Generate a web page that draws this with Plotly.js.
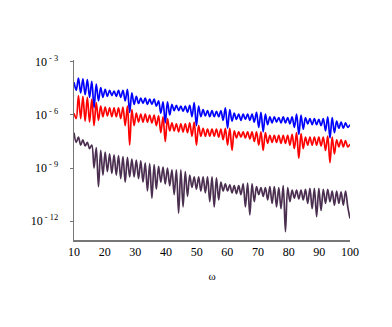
<!DOCTYPE html>
<html>
<head>
<meta charset="utf-8">
<script src="https://cdn.plot.ly/plotly-3.0.1.min.js"></script>
<style>
  body { margin: 0; padding: 0; background: #fff; }
  #chart { width: 392px; height: 327px; }
</style>
</head>
<body>
<div id="chart"></div>
<script>
// omega runs from 10 to 100 in 124 equal steps
var omegaStart = 10, omegaEnd = 100, nSamples = 125;

// log10 of the three responses
var blueExp = [
  -4.15, -4.6, -3.92, -4.75, -3.95, -4.85, -4.0, -5.0, -4.1, -5.6,
  -4.25, -5.2, -4.45, -5.0, -4.55, -4.95, -4.6, -4.9, -4.65, -4.95,
  -4.6, -5.0, -4.6, -5.2, -4.55, -5.85, -4.75, -5.4, -4.95, -5.35,
  -5.05, -5.35, -5.05, -5.4, -5.1, -5.4, -5.1, -5.5, -5.2, -5.9,
  -5.25, -6.45, -5.25, -6.0, -5.4, -5.75, -5.45, -5.75, -5.5, -5.8,
  -5.5, -5.85, -5.45, -6.1, -5.3, -6.6, -5.5, -6.1, -5.7, -6.05,
  -5.75, -6.1, -5.75, -6.1, -5.8, -6.1, -5.75, -6.3, -5.6, -6.75,
  -5.7, -6.35, -5.9, -6.25, -5.95, -6.3, -5.95, -6.25, -5.95, -6.3,
  -5.95, -6.4, -5.85, -6.7, -5.85, -6.95, -5.95, -6.55, -6.1, -6.45,
  -6.1, -6.4, -6.15, -6.45, -6.1, -6.45, -6.15, -6.5, -6.1, -6.7,
  -5.95, -7.1, -6.0, -6.8, -6.15, -6.5, -6.2, -6.55, -6.2, -6.55,
  -6.25, -6.6, -6.2, -6.9, -6.1, -7.3, -6.15, -7.0, -6.35, -6.75,
  -6.4, -6.75, -6.45, -6.7, -6.55
];
var redExp = [
  -5.9, -6.2, -4.9, -6.2, -4.95, -6.35, -5.0, -6.4, -5.1, -6.6,
  -5.3, -6.3, -5.5, -6.1, -5.55, -6.05, -5.6, -6.1, -5.6, -6.1,
  -5.6, -6.2, -5.55, -6.6, -5.5, -7.7, -5.7, -6.6, -5.9, -6.4,
  -5.95, -6.4, -5.95, -6.4, -6.0, -6.45, -6.0, -6.6, -6.05, -7.0,
  -6.1, -7.5, -6.2, -6.9, -6.45, -6.9, -6.5, -6.95, -6.5, -6.95,
  -6.5, -7.0, -6.45, -7.2, -6.4, -7.7, -6.6, -7.2, -6.75, -7.2,
  -6.8, -7.2, -6.8, -7.2, -6.8, -7.25, -6.8, -7.4, -6.75, -7.7,
  -6.75, -8.0, -6.9, -7.3, -6.95, -7.25, -6.95, -7.3, -6.95, -7.35,
  -6.95, -7.5, -6.95, -7.7, -6.95, -8.0, -7.0, -7.6, -7.15, -7.55,
  -7.15, -7.55, -7.15, -7.6, -7.15, -7.6, -7.15, -7.7, -7.1, -7.9,
  -7.0, -8.45, -7.05, -7.9, -7.25, -7.7, -7.25, -7.7, -7.25, -7.7,
  -7.25, -7.75, -7.25, -8.0, -7.2, -8.7, -7.25, -8.2, -7.4, -7.8,
  -7.4, -7.8, -7.45, -7.8, -7.65
];
var purpleExp = [
  -7.0, -7.55, -7.25, -7.7, -7.4, -7.75, -7.55, -7.9, -7.7, -9.0,
  -7.85, -10.05, -8.0, -9.4, -8.1, -9.2, -8.2, -9.3, -8.25, -9.4,
  -8.3, -9.6, -8.35, -9.8, -8.4, -9.5, -8.5, -9.5, -8.55, -9.6,
  -8.6, -9.8, -8.7, -10.3, -8.75, -10.7, -8.8, -10.2, -8.9, -9.8,
  -8.95, -9.9, -9.0, -10.0, -9.1, -10.5, -9.1, -11.55, -9.1, -11.2,
  -9.2, -10.6, -9.4, -10.1, -9.5, -10.2, -9.5, -10.3, -9.5, -10.4,
  -9.5, -10.9, -9.5, -11.2, -9.55, -10.8, -9.8, -10.3, -9.9, -10.3,
  -9.95, -10.4, -10.0, -10.45, -10.0, -10.5, -9.9, -11.2, -9.85, -11.65,
  -9.9, -10.9, -10.05, -10.5, -10.1, -10.6, -10.1, -10.8, -10.05, -11.0,
  -10.05, -11.2, -10.1, -11.3, -10.0, -12.6, -10.1, -10.9, -10.25, -10.7,
  -10.25, -10.75, -10.25, -10.8, -10.2, -11.0, -10.15, -11.3, -10.15, -11.75,
  -10.15, -11.4, -10.2, -11.0, -10.2, -10.9, -10.3, -11.1, -10.3, -11.0,
  -10.35, -11.1, -10.3, -11.2, -11.85
];

var yTickVals = [1e-3, 1e-6, 1e-9, 1e-12];
var yTickText = ['10<sup> - 3</sup>', '10<sup> - 6</sup>', '10<sup> - 9</sup>', '10<sup> - 12</sup>'];
var xTickVals = [10, 20, 30, 40, 50, 60, 70, 80, 90, 100];

var omega = [];
for (var i = 0; i < nSamples; i++) {
  omega.push(omegaStart + (omegaEnd - omegaStart) * i / (nSamples - 1));
}
function toValues(exps) {
  return exps.map(function (e) { return Math.pow(10, e); });
}

var colors = ['#0000ff', '#ff0000', '#4b2f50'];
var series = [blueExp, redExp, purpleExp];

var data = series.map(function (s, k) {
  return {
    x: omega,
    y: toValues(s),
    type: 'scatter',
    mode: 'lines',
    line: {color: colors[k], width: 1.7, shape: 'spline', smoothing: 1},
    hoverinfo: 'none'
  };
});

var serif = '"Liberation Serif", "Times New Roman", serif';

var layout = {
  width: 392,
  height: 327,
  margin: {l: 74, r: 42, t: 60, b: 87},
  paper_bgcolor: '#fff',
  plot_bgcolor: '#fff',
  showlegend: false,
  font: {family: serif, size: 12, color: '#000'},
  xaxis: {
    range: [10, 100],
    tickvals: xTickVals,
    ticks: '',
    showgrid: false,
    zeroline: false,
    showline: true,
    linecolor: '#777',
    linewidth: 1.5,
    tickfont: {family: serif, size: 12},
    title: {text: 'ω', font: {family: serif, size: 11}, standoff: 14}
  },
  yaxis: {
    type: 'log',
    range: [-13.07, -2.89],
    tickvals: yTickVals,
    ticktext: yTickText,
    ticks: 'outside',
    ticklen: 3,
    tickcolor: '#777',
    ticklabelstandoff: 9,
    showgrid: false,
    zeroline: false,
    showline: true,
    linecolor: '#777',
    linewidth: 1.5,
    tickfont: {family: serif, size: 12}
  }
};

Plotly.newPlot('chart', data, layout, {displayModeBar: false, staticPlot: true});
</script>
</body>
</html>
